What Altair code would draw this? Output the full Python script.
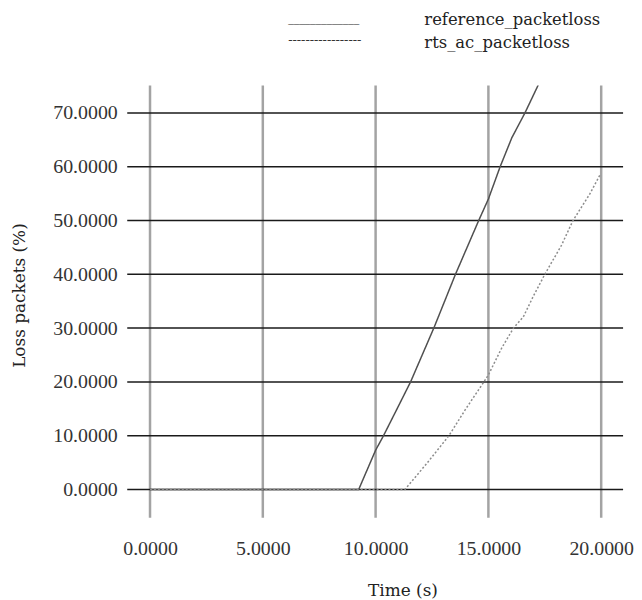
import altair as alt
import pandas as pd

# ---- data ----
ref_time = [0.0, 9.25, 10.0, 10.35, 11.0, 11.55, 12.58, 13.54, 14.57, 15.0, 15.52, 16.04, 16.62, 17.21]
ref_loss = [0.0, 0.0, 7.3, 10.0, 15.4, 20.0, 30.0, 40.0, 50.0, 54.0, 60.0, 65.4, 70.0, 75.2]

rts_time = [0.0, 11.3, 12.3, 13.25, 14.0, 14.8, 15.0, 15.59, 16.11, 16.55, 17.0, 17.5, 18.24, 18.75, 19.49, 19.96]
rts_loss = [0.0, 0.0, 5.0, 10.0, 15.0, 20.0, 21.3, 26.3, 30.0, 32.1, 36.0, 40.0, 45.4, 50.0, 54.9, 58.6]

series_names = ["reference_packetloss", "rts_ac_packetloss"]
legend_marks = ["_____________", "-----------------"]

x_ticks = [0, 5, 10, 15, 20]
y_ticks = [0, 10, 20, 30, 40, 50, 60, 70]

x_title = "Time (s)"
y_title = "Loss packets (%)"

# ---- build tables ----
lines_df = pd.concat([
    pd.DataFrame({"time": ref_time, "loss": ref_loss, "series": series_names[0]}),
    pd.DataFrame({"time": rts_time, "loss": rts_loss, "series": series_names[1]}),
], ignore_index=True)
xgrid_df = pd.DataFrame({"v": x_ticks})
ygrid_df = pd.DataFrame({"v": y_ticks})

W, H = 499, 435
xscale = alt.Scale(domain=[-1.01, 20.97], nice=False, zero=False)
yscale = alt.Scale(domain=[-5.23, 75.12], nice=False, zero=False)

x_axis = alt.Axis(
    values=x_ticks, format=".4f", grid=False, domain=False, ticks=False, tickSize=0,
    labelFont="Liberation Serif", labelFontSize=20, labelColor="#333333",
    labelPadding=21, labelFlush=False, labelOverlap=False,
    title=x_title, titleFont="DejaVu Serif", titleFontSize=17, titleFontWeight="normal",
    titleColor="#222222", titleX=277, titleY=73, titleAlign="center",
    titleBaseline="middle", titleAngle=0)
y_axis = alt.Axis(
    values=y_ticks, format=".4f", grid=False, domain=False, ticks=False, tickSize=0,
    labelFont="Liberation Serif", labelFontSize=20, labelColor="#333333",
    labelPadding=10, labelFlush=False, labelOverlap=False,
    title=y_title, titleFont="DejaVu Serif", titleFontSize=17, titleFontWeight="normal",
    titleColor="#222222", titleX=-108, titleY=211, titleAlign="center",
    titleBaseline="middle", titleAngle=-90)

vgrid = alt.Chart(xgrid_df).mark_rule(color="#a3a3a3", strokeWidth=2.5).encode(
    x=alt.X("v:Q", scale=xscale, axis=x_axis)
)
hgrid = alt.Chart(ygrid_df).mark_rule(color="#1a1a1a", strokeWidth=1.5).encode(
    y=alt.Y("v:Q", scale=yscale, axis=y_axis)
)

lines = alt.Chart(lines_df).mark_line(strokeWidth=1.5, clip=True).encode(
    x=alt.X("time:Q", scale=xscale, axis=x_axis),
    y=alt.Y("loss:Q", scale=yscale, axis=y_axis),
    color=alt.Color("series:N", scale=alt.Scale(domain=series_names, range=["#505050", "#8c8c8c"]), legend=None),
    strokeDash=alt.StrokeDash("series:N", scale=alt.Scale(domain=series_names, range=[[1, 0], [2, 2]]), legend=None),
    order=alt.Order("time:Q"),
)

# legend drawn as text (as in the reference)
legend_layers = []
rows_y = [-61, -38]
mark_sizes = [11, 13]
mark_y = [-63, -42]
for i in range(2):
    legend_layers.append(
        alt.Chart(pd.DataFrame({"t": [series_names[i]]})).mark_text(
            font="DejaVu Serif", fontSize=16.5, color="#222222", align="left", baseline="alphabetic"
        ).encode(text="t:N", x=alt.value(299), y=alt.value(rows_y[i]))
    )
    legend_layers.append(
        alt.Chart(pd.DataFrame({"t": [legend_marks[i]]})).mark_text(
            font="Liberation Serif", fontSize=mark_sizes[i], color="#333333", align="left", baseline="alphabetic"
        ).encode(text="t:N", x=alt.value(162), y=alt.value(mark_y[i]))
    )

chart = alt.layer(vgrid, hgrid, lines, *legend_layers).properties(
    width=W, height=H,
    background="white",
    autosize=alt.AutoSizeParams(type="none"),
    padding={"left": 120, "top": 76, "right": 11, "bottom": 81},
).configure_view(stroke=None)

chart.save("out.html", embed_options={"renderer": "svg", "actions": False})
